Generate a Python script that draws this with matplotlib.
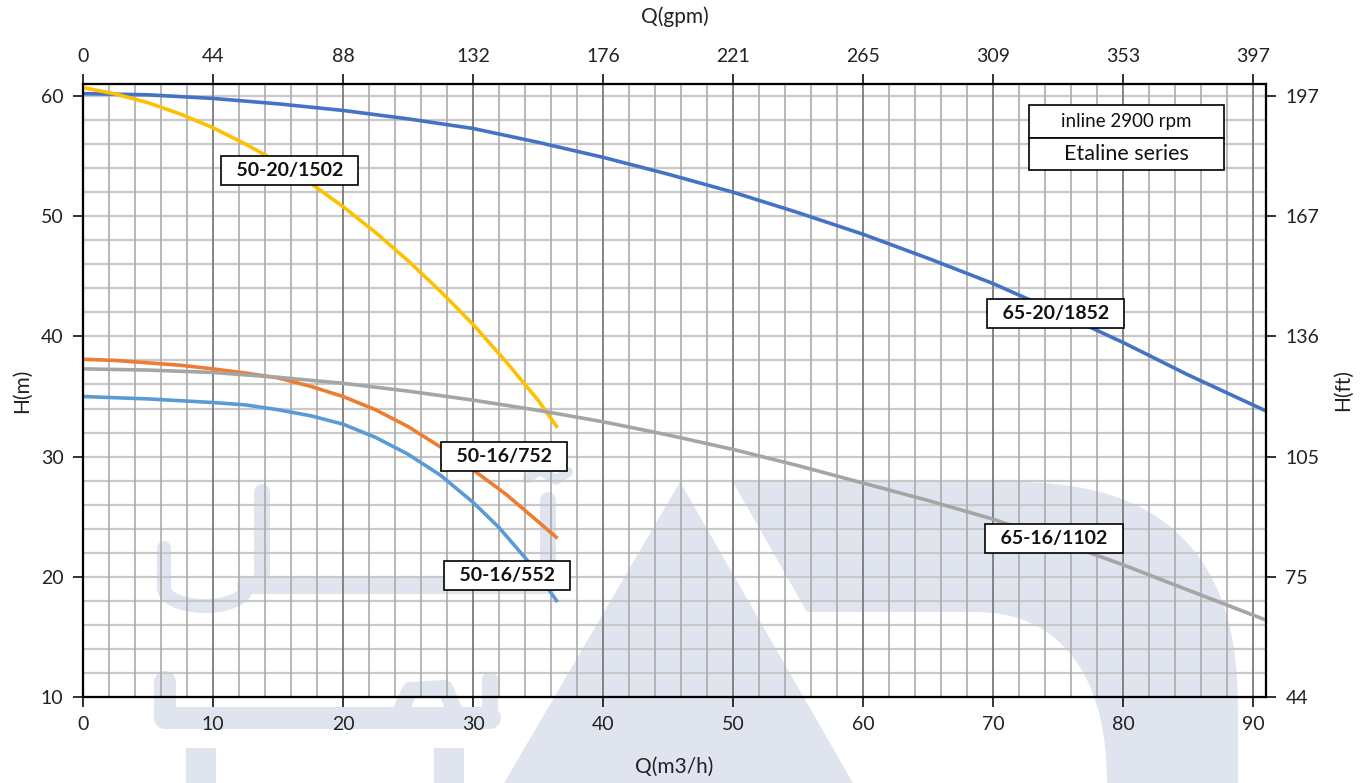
import numpy as np
import matplotlib
matplotlib.use("Agg")
import matplotlib.pyplot as plt
from matplotlib.patches import Polygon, Rectangle

plt.rcParams['font.family'] = ['Lato', 'DejaVu Sans']

# ---------------- data ----------------
q_1852 = [0, 5, 10, 15, 20, 25, 30, 35, 40, 45, 50, 55, 60, 65, 70, 75, 80, 85, 91]
h_1852 = [60.2, 60.1, 59.8, 59.35, 58.8, 58.1, 57.3, 56.15, 54.9, 53.5, 52.0, 50.3,
          48.5, 46.5, 44.4, 42.0, 39.5, 36.8, 33.8]

q_1502 = [0, 2.5, 5, 7.5, 10, 12.5, 15, 17.5, 20, 22.5, 25, 27.5, 30, 32.5, 35, 36.5]
h_1502 = [60.7, 60.17, 59.44, 58.5, 57.36, 56.0, 54.5, 52.75, 50.8, 48.65, 46.3, 43.75,
          41.0, 37.95, 34.7, 32.4]

q_752 = [0, 2.5, 5, 7.5, 10, 12.5, 15, 17.5, 20, 22.5, 25, 27.5, 30, 32.5, 35, 36.5]
h_752 = [38.1, 38.0, 37.8, 37.6, 37.3, 36.95, 36.55, 35.85, 35.0, 33.9, 32.5, 30.8,
         28.9, 26.9, 24.6, 23.2]

q_552 = [0, 5, 10, 12.5, 15, 17.5, 20, 22.5, 25, 27.5, 30, 32, 34, 35, 36.5]
h_552 = [35.0, 34.8, 34.5, 34.3, 33.9, 33.4, 32.7, 31.6, 30.2, 28.45, 26.2, 24.1,
         21.6, 20.2, 17.9]

q_1102 = [0, 5, 10, 15, 20, 25, 30, 35, 40, 45, 50, 55, 60, 65, 70, 75, 80, 85, 91]
h_1102 = [37.3, 37.2, 37.0, 36.6, 36.1, 35.45, 34.7, 33.85, 32.9, 31.8, 30.6, 29.25,
          27.8, 26.35, 24.8, 22.95, 21.0, 18.9, 16.4]

x_ticks = [0, 10, 20, 30, 40, 50, 60, 70, 80, 90]
gpm_labels = ['0', '44', '88', '132', '176', '221', '265', '309', '353', '397']
y_ticks = [10, 20, 30, 40, 50, 60]
ft_labels = ['44', '75', '105', '136', '167', '197']

series = [
    ('65-20/1852', q_1852, h_1852, '#4472C4', (74.8, 41.9)),
    ('50-20/1502', q_1502, h_1502, '#FFC000', (15.9, 53.8)),
    ('50-16/752', q_752, h_752, '#ED7D31', (32.4, 30.0)),
    ('50-16/552', q_552, h_552, '#5B9BD5', (32.6, 20.1)),
    ('65-16/1102', q_1102, h_1102, '#A5A5A5', (74.7, 23.2)),
]

W, H = 1369, 783
fig = plt.figure(figsize=(W / 100, H / 100), dpi=100)

# ---------------- watermark (background logo) ----------------
bg = fig.add_axes([0, 0, 1, 1], zorder=0)
bg.set_xlim(0, W)
bg.set_ylim(H, 0)
bg.axis('off')
wm = '#dfe4ef'
bg.add_patch(Polygon([(500, 790), (680, 482), (857, 790)], closed=True, fc=wm, ec='none'))

def superarc(cx, cy, rx, ry, n, t0, t1, num=60):
    t = np.linspace(np.radians(t0), np.radians(t1), num)
    c, s = np.cos(t), np.sin(t)
    x = cx + rx * np.sign(c) * np.abs(c) ** (2 / n)
    y = cy - ry * np.sign(s) * np.abs(s) ** (2 / n)
    return list(zip(x, y))

pts = [(733, 482), (1000, 482)]
pts += superarc(1000, 720, 238, 238, 2.6, 90, 0)
pts += [(1238, 790), (1107, 790)]
pts += superarc(970, 790, 137, 178, 2.4, 0, 90)
pts += [(807, 612)]
bg.add_patch(Polygon(pts, closed=True, fc=wm, ec='none'))

# rough Persian wordmark strokes
def stroke(xy, w):
    xs, ys = zip(*xy)
    bg.plot(xs, ys, color=wm, lw=w * 0.72, solid_capstyle='round', solid_joinstyle='round')

t = np.linspace(np.pi, 0, 30)
stroke([(164, 548)] + list(zip(205 + 41 * np.cos(t), 588 + 18 * np.sin(t))), 14)
stroke([(262, 492), (262, 585)], 16)
stroke([(246, 585), (548, 585)], 18)
stroke([(548, 585), (548, 500)], 16)
stroke([(528, 478), (540, 470), (556, 480), (568, 472)], 10)
stroke([(165, 682), (165, 718), (490, 718)], 22)
stroke([(490, 718), (490, 680)], 16)
stroke([(400, 712), (410, 690), (445, 688), (455, 712)], 16)
bg.add_patch(Rectangle((186, 748), 30, 40, fc=wm, ec='none'))
bg.add_patch(Rectangle((434, 748), 30, 40, fc=wm, ec='none'))

# ---------------- main axes ----------------
x0, x1 = 83 / W, 1266 / W
y0, y1 = 1 - 697 / H, 1 - 84 / H
ax = fig.add_axes([x0, y0, x1 - x0, y1 - y0], zorder=1)
ax.set_facecolor('none')
ax.set_xlim(0, 91)
ax.set_ylim(10, 61)

# grid
for yv in np.arange(12, 61, 2):
    ax.axhline(yv, color='#c9c9c9', lw=1.6, zorder=1)
for xv in np.arange(2, 91, 2):
    if xv % 10 == 0:
        ax.axvline(xv, color='#7a7a7a', lw=1.3, zorder=1.2)
    else:
        ax.axvline(xv, color='#ababab', lw=1.2, zorder=1.1)

for name, q, h, col, lab in series:
    ax.plot(q, h, color=col, lw=2.6, solid_capstyle='butt', solid_joinstyle='round', zorder=3)
    ax.text(lab[0], lab[1], '  ' + name + '  ', ha='center', va='center',
            fontsize=14, fontweight='bold', color='#111111', zorder=5,
            bbox=dict(boxstyle='square,pad=0.3', fc='white', ec='black', lw=1.2))

for sp in ax.spines.values():
    sp.set_color('black')
    sp.set_linewidth(1.5)

tick_kw = dict(direction='out', length=7, width=1.3, labelsize=14, colors='#222222', pad=7)
ax.set_xticks(x_ticks)
ax.set_yticks(y_ticks)
ax.tick_params(axis='both', **tick_kw)
ax.set_xlabel('Q(m3/h)', fontsize=15, color='#222222', labelpad=17)
ax.set_ylabel('H(m)', fontsize=15, color='#222222', labelpad=6)

axr = ax.twinx()
axr.set_ylim(ax.get_ylim())
axr.set_yticks(y_ticks)
axr.set_yticklabels(ft_labels)
axr.tick_params(axis='y', **tick_kw)
axr.set_ylabel('H(ft)', fontsize=15, color='#222222', labelpad=10)

axt = ax.twiny()
axt.set_xlim(ax.get_xlim())
axt.set_xticks(x_ticks)
axt.set_xticklabels(gpm_labels)
axt.tick_params(axis='x', **tick_kw)
axt.set_xlabel('Q(gpm)', fontsize=15, color='#222222', labelpad=18)
for a in (axr, axt):
    for sp in a.spines.values():
        sp.set_linewidth(1.5)

# info box
bx0 = (1029 - 83) / (1266 - 83)
bx1 = (1224 - 83) / (1266 - 83)
by_top = (697 - 105) / (697 - 84)
by_mid = (697 - 138) / (697 - 84)
by_bot = (697 - 170) / (697 - 84)
for ya, yb in ((by_mid, by_top), (by_bot, by_mid)):
    ax.add_patch(Rectangle((bx0, ya), bx1 - bx0, yb - ya, transform=ax.transAxes,
                           fc='white', ec='black', lw=1.2, zorder=5))
ax.text((bx0 + bx1) / 2, (by_mid + by_top) / 2, 'inline 2900 rpm', transform=ax.transAxes,
        ha='center', va='center', fontsize=13.5, color='#111111', zorder=6)
ax.text((bx0 + bx1) / 2, (by_bot + by_mid) / 2, 'Etaline series', transform=ax.transAxes,
        ha='center', va='center', fontsize=15.5, color='#111111', zorder=6)

fig.savefig('out.png', dpi=100)
